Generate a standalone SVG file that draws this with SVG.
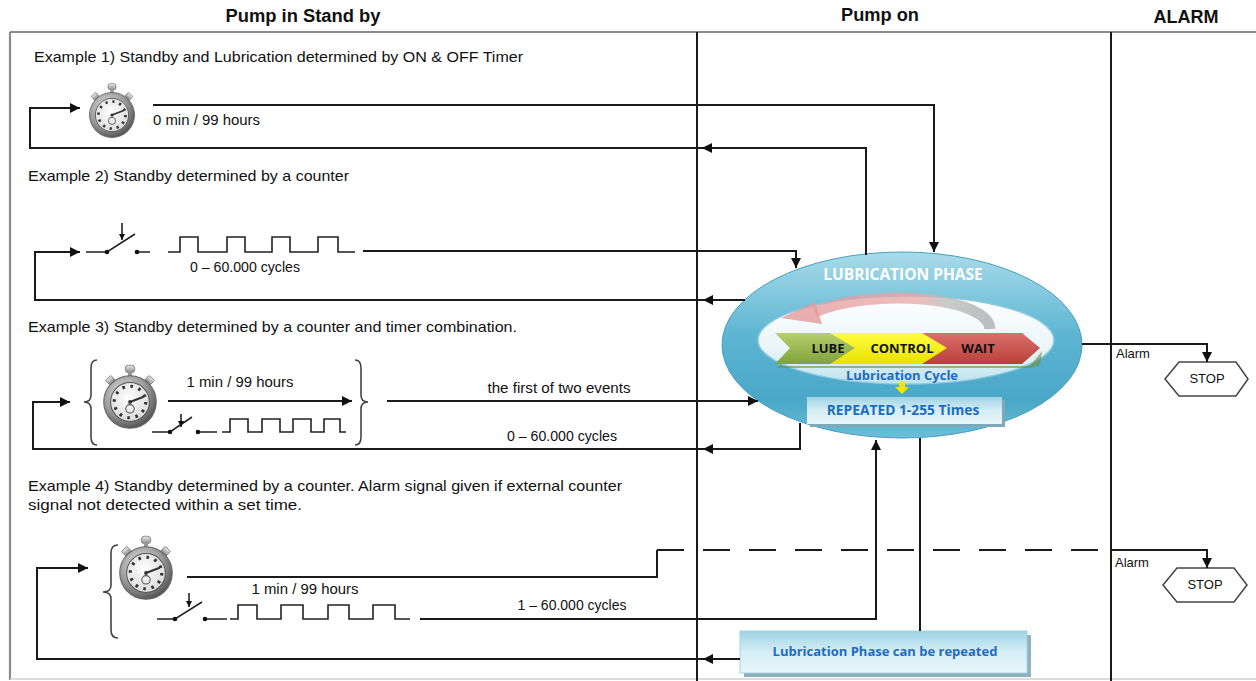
<svg xmlns="http://www.w3.org/2000/svg" width="1256" height="681" viewBox="0 0 1256 681">
<style>
.hdr{font-family:"Liberation Sans",Arial,sans-serif;font-weight:bold;font-size:18px;fill:#111;text-anchor:middle}
.ex{font-family:"Liberation Sans",Arial,sans-serif;font-size:14.5px;fill:#111}
.lbl{font-family:"Liberation Sans",Arial,sans-serif;font-size:14px;fill:#111}
.sm{font-family:"Liberation Sans",Arial,sans-serif;font-size:13px;fill:#111}
.mid{text-anchor:middle}
.ln{fill:none;stroke:#1a1a1a;stroke-width:2}
.ah{fill:none;stroke:#1a1a1a;stroke-width:2;marker-end:url(#arr)}
.sw{fill:none;stroke:#222;stroke-width:1.6}
.dot{fill:#111}
.brace{fill:none;stroke:#444;stroke-width:1.6}
.blue{font-family:"Open Sans","Liberation Sans",sans-serif;font-weight:bold;fill:#1c6cc0;text-anchor:middle}
.chev{font-family:"Open Sans","Liberation Sans",sans-serif;font-weight:bold;font-size:13px;fill:#111;text-anchor:middle}
.stop{fill:#fff;stroke:#444;stroke-width:1.5}
</style>
<defs>
<marker id="arr" viewBox="0 0 10 10" refX="10" refY="5" markerWidth="12" markerHeight="10" orient="auto" markerUnits="userSpaceOnUse"><path d="M0,0 L10,5 L0,10 z" fill="#111"/></marker>
<marker id="sarr" viewBox="0 0 10 10" refX="10" refY="5" markerWidth="7" markerHeight="6" orient="auto" markerUnits="userSpaceOnUse"><path d="M0,0 L10,5 L0,10 z" fill="#111"/></marker>
<radialGradient id="gRing" cx="0.4" cy="0.35" r="0.7"><stop offset="0" stop-color="#e6e6e6"/><stop offset="0.6" stop-color="#9a9a9a"/><stop offset="1" stop-color="#4a4a4a"/></radialGradient>
<radialGradient id="gFace" cx="0.45" cy="0.4" r="0.7"><stop offset="0" stop-color="#ffffff"/><stop offset="1" stop-color="#d4d4d4"/></radialGradient>
<linearGradient id="gMetal" x1="0" y1="0" x2="0" y2="1"><stop offset="0" stop-color="#eee"/><stop offset="1" stop-color="#888"/></linearGradient>
<linearGradient id="gEll" x1="0" y1="0" x2="0" y2="1"><stop offset="0" stop-color="#a9dbe9"/><stop offset="0.45" stop-color="#5cb5d2"/><stop offset="0.8" stop-color="#4aa7c7"/><stop offset="1" stop-color="#6cbfd9"/></linearGradient>
<linearGradient id="gIn" x1="0" y1="0" x2="0" y2="1"><stop offset="0" stop-color="#ffffff"/><stop offset="0.6" stop-color="#e9f5f9"/><stop offset="1" stop-color="#bfe2ee"/></linearGradient>
<linearGradient id="gBox" x1="0" y1="0" x2="0" y2="1"><stop offset="0" stop-color="#9fd3e4"/><stop offset="0.5" stop-color="#d6eef6"/><stop offset="1" stop-color="#e8f6fa"/></linearGradient>
<linearGradient id="gCurve" x1="0" y1="0" x2="1" y2="0"><stop offset="0" stop-color="#e59a9a"/><stop offset="0.6" stop-color="#e6a9a6"/><stop offset="0.75" stop-color="#b9b9b9"/><stop offset="1" stop-color="#a9a9a9"/></linearGradient>
<linearGradient id="gGreen" x1="0" y1="0" x2="0" y2="1"><stop offset="0" stop-color="#b6d06e"/><stop offset="1" stop-color="#7fa23a"/></linearGradient>
<linearGradient id="gYel" x1="0" y1="0" x2="0" y2="1"><stop offset="0" stop-color="#ffff40"/><stop offset="1" stop-color="#e8e000"/></linearGradient>
<linearGradient id="gRed" x1="0" y1="0" x2="0" y2="1"><stop offset="0" stop-color="#dc6f6a"/><stop offset="1" stop-color="#b8403c"/></linearGradient>
<g id="sw">
<rect x="-4.5" y="-35" width="9" height="7" rx="3" fill="url(#gMetal)" stroke="#777" stroke-width="0.8"/>
<rect x="-2" y="-29" width="4" height="5" fill="#999"/>
<rect x="-3.5" y="-31" width="7" height="6" rx="1" fill="url(#gMetal)" stroke="#777" stroke-width="0.8" transform="rotate(-42)"/>
<rect x="-3.5" y="-31" width="7" height="6" rx="1" fill="url(#gMetal)" stroke="#777" stroke-width="0.8" transform="rotate(42)"/>
<circle r="25" fill="url(#gRing)" stroke="#666" stroke-width="1"/>
<circle r="18.5" fill="url(#gFace)" stroke="#555" stroke-width="1"/>
<circle r="15" fill="none" stroke="#333" stroke-width="3" stroke-dasharray="2.5 5.35"/>
<circle cy="6.5" r="4" fill="none" stroke="#555" stroke-width="1"/>
<line x1="0" y1="0" x2="13" y2="-5" stroke="#333" stroke-width="1.8"/>
<circle r="1.8" fill="#333"/>
</g>
</defs>
<rect width="1256" height="681" fill="#fff"/>

<g id="frame">
<line x1="10" y1="32" x2="1256" y2="32" stroke="#8a8a8a" stroke-width="2.2"/>
<line x1="10" y1="32" x2="10" y2="680" stroke="#8a8a8a" stroke-width="2.2"/>
<line x1="10" y1="679" x2="1256" y2="679" stroke="#d0d0d0" stroke-width="1.5"/>
<line x1="697" y1="32" x2="697" y2="681" stroke="#1a1a1a" stroke-width="2"/>
<line x1="1111" y1="32" x2="1111" y2="681" stroke="#1a1a1a" stroke-width="2"/>
<text class="hdr" x="303" y="22" textLength="155" lengthAdjust="spacingAndGlyphs">Pump in Stand by</text>
<text class="hdr" x="880" y="21" textLength="78" lengthAdjust="spacingAndGlyphs">Pump on</text>
<text class="hdr" x="1186" y="23" textLength="65" lengthAdjust="spacingAndGlyphs">ALARM</text>
</g>

<g id="example-texts">
<text class="ex" x="34" y="62" textLength="489" lengthAdjust="spacingAndGlyphs">Example 1) Standby and Lubrication determined by ON &amp; OFF Timer</text>
<text class="ex" x="28" y="181" textLength="321" lengthAdjust="spacingAndGlyphs">Example 2) Standby determined by a counter</text>
<text class="ex" x="28" y="332" textLength="489" lengthAdjust="spacingAndGlyphs">Example 3) Standby determined by a counter and timer combination.</text>
<text class="ex" x="28" y="491" textLength="594" lengthAdjust="spacingAndGlyphs">Example 4) Standby determined by a counter. Alarm signal given if external counter</text>
<text class="ex" x="28" y="510" textLength="274" lengthAdjust="spacingAndGlyphs">signal not detected within a set time.</text>
</g>

<g id="timer1"><use href="#sw" transform="translate(112,115) scale(0.9)"/></g>
<g id="counter2">
<path class="sw" d="M86,252 H107 L135,234 M137,252 H150 M168,252 H180 V237 H198 V252 H227 V237 H245 V252 H272 V237 H290 V252 H318 V237 H338 V252 H355"/>
<path class="sw" d="M122,223 V240" marker-end="url(#sarr)"/>
<circle class="dot" cx="107" cy="252" r="2.3"/><circle class="dot" cx="137" cy="252" r="2.3"/>
</g>
<g id="timer-counter3">
<use href="#sw" transform="translate(130,402) scale(1.05)"/>
<path class="brace" d="M97,360 Q91,360 91,368 V395 Q91,402 84,402 Q91,402 91,409 V437 Q91,445 97,445"/>
<path class="brace" d="M355,360 Q361,360 361,368 V395 Q361,402 368,402 Q361,402 361,409 V437 Q361,445 355,445"/>
<path class="sw" d="M152,432 H170 L192,417 M198,432 H217 M222,432 H230 V419 H248 V432 H262 V419 H280 V432 H293 V419 H311 V432 H324 V419 H340 V432 H346"/>
<path class="sw" d="M181,414 V427" marker-end="url(#sarr)"/>
<circle class="dot" cx="170" cy="432" r="2.3"/><circle class="dot" cx="198" cy="432" r="2.3"/>
</g>
<g id="timer-counter4">
<use href="#sw" transform="translate(146,573) scale(1.05)"/>
<path class="brace" d="M118,545 Q111,545 111,553 V585 Q111,592 103,592 Q111,592 111,599 V630 Q111,638 118,638"/>
<path class="sw" d="M157,619 H175 L202,602 M205,619 H227 M230,619 H238 V605 H257 V619 H281 V605 H303 V619 H328 V605 H349 V619 H373 V605 H395 V619 H410"/>
<path class="sw" d="M189,593 V607" marker-end="url(#sarr)"/>
<circle class="dot" cx="175" cy="619" r="2.3"/><circle class="dot" cx="205" cy="619" r="2.3"/>
</g>

<g id="lubrication-phase">
<ellipse cx="902" cy="345" rx="180" ry="93" fill="url(#gEll)" stroke="#4a9fbf" stroke-width="1"/>
<ellipse cx="906" cy="340" rx="148" ry="44" fill="url(#gIn)" stroke="#8ccbe0" stroke-width="1.5"/>
<text x="903" y="280" font-family="'Open Sans','Liberation Sans',sans-serif" font-weight="bold" font-size="15.5px" fill="#fff" text-anchor="middle">LUBRICATION PHASE</text>
<path d="M990,329 C988,296 870,288 815,312" fill="none" stroke="url(#gCurve)" stroke-width="11" opacity="0.75"/>
<path d="M781,318 L815,302 L822,324 z" fill="#e59a9a" opacity="0.8"/>
<path d="M778,366 H1030 L1042,351 L1040,365 L1030,368 H778 z" fill="#6e8a3a" opacity="0.6"/>
<path d="M920,333 H1022 L1040,348 L1022,364 H920 z" fill="url(#gRed)"/>
<path d="M830,333 H922 L947,348 L922,364 H830 z" fill="url(#gYel)"/>
<path d="M775,333 H830 L855,348 L830,364 H775 L790,348 z" fill="url(#gGreen)"/>
<text class="chev" x="828" y="353">LUBE</text>
<text class="chev" x="902" y="353">CONTROL</text>
<text class="chev" x="978" y="353">WAIT</text>
<text class="blue" x="902" y="380" font-size="13px">Lubrication Cycle</text>
<path d="M899,382 H905 V387 H909 L902,394 L895,387 H899 z" fill="#f2e600"/>
<rect x="810" y="400" width="195" height="27" fill="#7fa9b8"/>
<rect x="807" y="397" width="195" height="27" fill="url(#gBox)"/>
<text class="blue" x="903" y="415" font-size="13.8px">REPEATED 1-255 Times</text>
</g>

<g id="repeat-box">
<rect x="744" y="635" width="287" height="42" fill="#8fb2bf"/>
<rect x="740" y="631" width="287" height="42" fill="url(#gBox)" stroke="#a5d4e3" stroke-width="1"/>
<text class="blue" x="885" y="656" font-size="13px">Lubrication Phase can be repeated</text>
</g>

<g id="stop1">
<polygon class="stop" points="1165,379 1179,362 1236,362 1248,379 1236,396 1179,396"/>
<text class="sm mid" x="1207" y="383">STOP</text>
</g>
<g id="stop2">
<polygon class="stop" points="1163,585 1177,568 1234,568 1247,585 1234,602 1177,602"/>
<text class="sm mid" x="1205" y="589">STOP</text>
</g>

<g id="connectors">
<path class="ah" d="M153,105 H934 V252"/>
<path class="ah" d="M866,255 V148 H30 V108 H80"/>
<path class="ah" d="M715,148 H702"/>
<path class="ah" d="M363,251 H796 V268"/>
<path class="ah" d="M745,300 H35 V252 H80"/>
<path class="ah" d="M716,300 H703"/>
<path class="ah" d="M168,401 H352"/>
<path class="ah" d="M387,401 H758"/>
<path class="ah" d="M800,423 V449 H33 V402 H70"/>
<path class="ah" d="M716,449 H703"/>
<path class="ln" d="M187,577 H657 V550"/>
<path class="ln" d="M657,550 H1111" stroke-dasharray="27 19"/>
<path class="ah" d="M1111,550 H1207 V568"/>
<path class="ah" d="M420,619 H876 V440"/>
<path class="ln" d="M920,438 V631"/>
<path class="ah" d="M740,659 H37 V568 H88"/>
<path class="ah" d="M716,659 H703"/>
<path class="ah" d="M1082,344 H1207 V362"/>
</g>

<g id="labels">
<text class="lbl" x="153" y="125" textLength="107" lengthAdjust="spacingAndGlyphs">0 min / 99 hours</text>
<text class="lbl mid" x="245" y="272" textLength="110" lengthAdjust="spacingAndGlyphs">0 – 60.000 cycles</text>
<text class="lbl mid" x="240" y="387" textLength="107" lengthAdjust="spacingAndGlyphs">1 min / 99 hours</text>
<text class="lbl mid" x="559" y="393" textLength="143" lengthAdjust="spacingAndGlyphs">the first of two events</text>
<text class="lbl mid" x="562" y="441" textLength="110" lengthAdjust="spacingAndGlyphs">0 – 60.000 cycles</text>
<text class="lbl mid" x="305" y="594" textLength="107" lengthAdjust="spacingAndGlyphs">1 min / 99 hours</text>
<text class="lbl mid" x="572" y="610" textLength="109" lengthAdjust="spacingAndGlyphs">1 – 60.000 cycles</text>
<text class="sm" x="1116" y="358">Alarm</text>
<text class="sm" x="1115" y="567">Alarm</text>
</g>
</svg>
